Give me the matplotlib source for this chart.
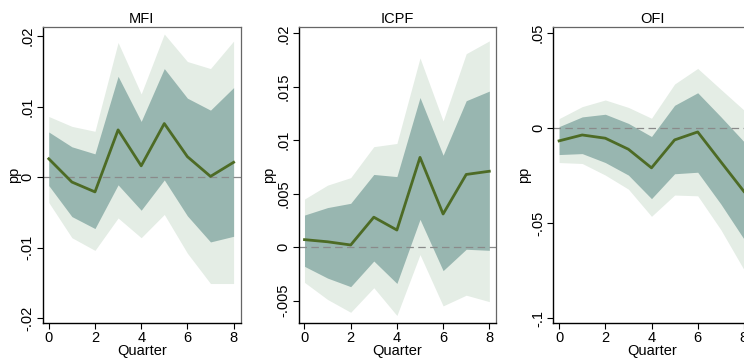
import numpy as np
import matplotlib
matplotlib.use('Agg')
import matplotlib.pyplot as plt

plt.rcParams['font.family'] = ['Liberation Sans', 'DejaVu Sans']

quarters = [0, 1, 2, 3, 4, 5, 6, 7, 8]

# MFI
mfi_irf = [0.0026, -0.0007, -0.0021, 0.0067, 0.0016, 0.0076, 0.0029, 0.0001, 0.0021]
mfi_lo68 = [-0.0012, -0.0056, -0.0073, -0.0011, -0.0047, -0.0004, -0.0055, -0.0092, -0.0084]
mfi_hi68 = [0.0064, 0.0043, 0.0033, 0.0143, 0.0079, 0.0154, 0.0112, 0.0095, 0.0127]
mfi_lo90 = [-0.0036, -0.0086, -0.0104, -0.0058, -0.0086, -0.0053, -0.0108, -0.0151, -0.0151]
mfi_hi90 = [0.0086, 0.0072, 0.0065, 0.0191, 0.0118, 0.0203, 0.0164, 0.0154, 0.0193]

# ICPF
icpf_irf = [0.0007, 0.0005, 0.0002, 0.0028, 0.0016, 0.0084, 0.0031, 0.0068, 0.0071]
icpf_lo68 = [-0.0018, -0.0029, -0.0037, -0.0013, -0.0034, 0.0026, -0.0022, -0.0002, -0.0003]
icpf_hi68 = [0.0030, 0.0037, 0.0041, 0.0068, 0.0066, 0.0140, 0.0086, 0.0137, 0.0146]
icpf_lo90 = [-0.0033, -0.0049, -0.0061, -0.0038, -0.0064, -0.0007, -0.0055, -0.0045, -0.0051]
icpf_hi90 = [0.0045, 0.0058, 0.0065, 0.0094, 0.0097, 0.0177, 0.0118, 0.0181, 0.0193]

# OFI
ofi_irf = [-0.0068, -0.0037, -0.0054, -0.0112, -0.0210, -0.0063, -0.0021, -0.0178, -0.0334]
ofi_lo68 = [-0.0140, -0.0135, -0.0182, -0.0248, -0.0372, -0.0241, -0.0233, -0.0400, -0.0584]
ofi_hi68 = [0.0007, 0.0058, 0.0072, 0.0024, -0.0045, 0.0119, 0.0185, 0.0059, -0.0072]
ofi_lo90 = [-0.0182, -0.0187, -0.0248, -0.0322, -0.0465, -0.0353, -0.0357, -0.0535, -0.0745]
ofi_hi90 = [0.0049, 0.0112, 0.0147, 0.0108, 0.0051, 0.0231, 0.0313, 0.0203, 0.0094]

panels = [
    ('MFI', mfi_irf, mfi_lo68, mfi_hi68, mfi_lo90, mfi_hi90,
     [-0.02, -0.01, 0, 0.01, 0.02], ['-.02', '-.01', '0', '.01', '.02'], (-0.0207, 0.0213)),
    ('ICPF', icpf_irf, icpf_lo68, icpf_hi68, icpf_lo90, icpf_hi90,
     [-0.005, 0, 0.005, 0.01, 0.015, 0.02], ['-.005', '0', '.005', '.01', '.015', '.02'], (-0.0071, 0.0206)),
    ('OFI', ofi_irf, ofi_lo68, ofi_hi68, ofi_lo90, ofi_hi90,
     [-0.1, -0.05, 0, 0.05], ['-.1', '-.05', '0', '.05'], (-0.1026, 0.0531)),
]

lefts = [0.0578, 0.4015, 0.7437]
fig = plt.figure(figsize=(7.44, 3.58), dpi=100)

for (name, irf, lo68, hi68, lo90, hi90, yt, ytl, ylim), left in zip(panels, lefts):
    ax = fig.add_axes([left, 0.0978, 0.2655, 0.8268])
    ax.fill_between(quarters, lo90, hi90, color='#e4ede5', lw=0)
    ax.fill_between(quarters, lo68, hi68, color='#98b6b0', lw=0)
    ax.axhline(0, color='#8a8a8a', lw=0.9, dashes=(6, 3.5))
    ax.plot(quarters, irf, color='#4d6b25', lw=2.0)

    ax.set_xlim(-0.25, 8.3)
    ax.set_ylim(*ylim)
    ax.set_xticks([0, 2, 4, 6, 8])
    ax.set_yticks(yt)
    ax.set_yticklabels(ytl, rotation=90, va='center')
    ax.tick_params(axis='both', labelsize=10.5, length=4, width=0.8, pad=2, color='black')
    for s in ['left', 'bottom']:
        ax.spines[s].set_color('black')
        ax.spines[s].set_linewidth(1.0)
    for s in ['top', 'right']:
        ax.spines[s].set_color('#666666')
        ax.spines[s].set_linewidth(0.9)
    ax.set_title(name, fontsize=10.5, pad=3)
    ax.set_xlabel('Quarter', fontsize=10.5, labelpad=-1)
    ax.set_ylabel('pp', fontsize=10.5, labelpad=0)

plt.savefig('out.png', dpi=100)
